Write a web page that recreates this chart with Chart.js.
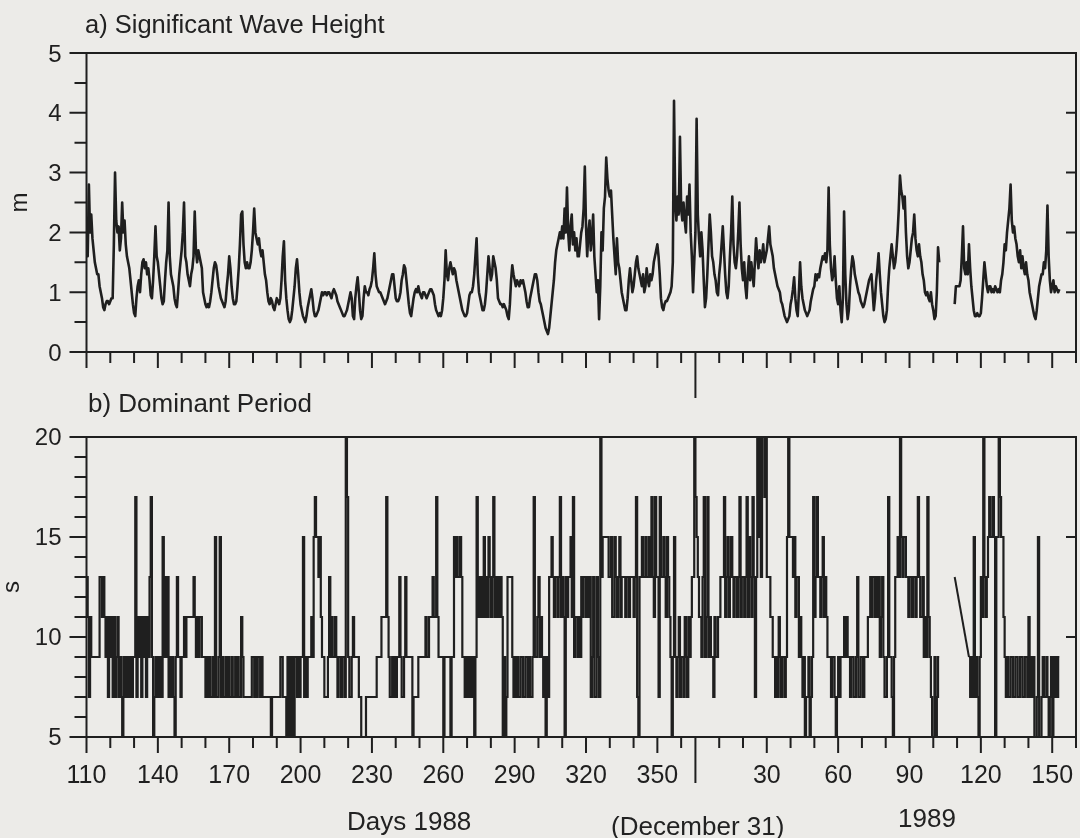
<!DOCTYPE html>
<html>
<head>
<meta charset="utf-8">
<script src="https://cdn.jsdelivr.net/npm/chart.js@4.4.1/dist/chart.umd.min.js"></script>
<style>
  html, body { margin: 0; padding: 0; background: #ecebe8; }
  #page { position: relative; width: 1080px; height: 838px; overflow: hidden;
          font-family: "Liberation Sans", Arial, sans-serif; color: #222; }
  #page canvas { position: absolute; left: 0; }
  .txt { position: absolute; white-space: nowrap; line-height: 1; font-size: 26px; }
</style>
</head>
<body>
<div id="page">
  <canvas id="hsChart" width="1080" height="420" style="top:0"></canvas>
  <canvas id="tpChart" width="1080" height="458" style="top:380px"></canvas>
  <div class="txt" style="left:85px;top:12px;font-size:25.5px">a) Significant Wave Height</div>
  <div class="txt" style="left:88px;top:390px">b) Dominant Period</div>
  <div class="txt" style="left:347px;top:808px">Days 1988</div>
  <div class="txt" style="left:611px;top:813px">(December 31)</div>
  <div class="txt" style="left:898px;top:805px">1989</div>
</div>
<script>
// time base: day number counted from 1 Jan 1988 (1989 days follow day 366)
const yearEnd = 366;
const startDay = 110;
const samplesPerDay = 2;

const tickDays1988 = [110, 120, 130, 140, 150, 160, 170, 180, 190, 200, 210, 220, 230,
  240, 250, 260, 270, 280, 290, 300, 310, 320, 330, 340, 350, 360];
const labelDays1988 = [110, 140, 170, 200, 230, 260, 290, 320, 350];
const tickDays1989 = [10, 20, 30, 40, 50, 60, 70, 80, 90, 100, 110, 120, 130, 140, 150, 160];
const labelDays1989 = [30, 60, 90, 120, 150];

// a) significant wave height (m), two samples per day from day 110
const waveHeight = [
  1.9,1.6,2.8,2.0,2.3,1.9,1.7,1.5,1.4,1.3,1.3,1.1,1.0,0.9,0.75,0.7,0.8,0.85,0.85,0.8,
  0.85,0.9,0.9,1.8,3.0,2.2,2.0,2.1,1.7,1.9,2.5,2.0,2.2,1.8,1.6,1.5,1.4,1.2,1.0,0.8,
  0.65,0.6,0.9,1.1,1.2,1.0,1.3,1.5,1.55,1.4,1.5,1.3,1.4,1.2,0.95,0.9,1.2,1.6,2.1,1.6,
  1.5,1.3,1.1,0.9,0.8,0.85,1.2,1.5,1.7,2.5,1.6,1.3,1.2,1.1,0.9,0.8,0.75,1.0,1.3,1.5,
  1.7,2.0,2.5,1.6,1.5,1.3,1.2,1.1,1.3,1.4,1.6,2.35,1.7,1.5,1.7,1.6,1.5,1.4,1.0,0.9,
  0.8,0.75,0.8,0.75,0.85,1.0,1.2,1.4,1.5,1.45,1.3,1.1,1.0,0.9,0.85,0.8,0.75,0.85,1.1,1.3,
  1.6,1.4,1.1,0.9,0.8,0.8,0.85,1.1,1.4,1.8,2.3,2.35,1.8,1.5,1.4,1.5,1.4,1.4,1.5,1.7,
  2.0,2.4,2.0,1.9,1.8,1.9,1.7,1.6,1.7,1.5,1.3,1.2,1.0,0.85,0.8,0.9,0.85,0.75,0.7,0.8,
  0.9,0.85,0.8,0.9,1.2,1.6,1.85,1.2,0.9,0.7,0.55,0.5,0.55,0.7,0.9,1.1,1.4,1.55,1.3,1.0,
  0.8,0.7,0.6,0.55,0.5,0.6,0.75,0.85,0.95,1.05,0.9,0.7,0.6,0.6,0.65,0.7,0.8,0.9,1.0,0.95,
  1.0,1.0,0.95,1.0,1.0,0.95,0.9,1.0,1.05,1.0,0.95,0.85,0.8,0.75,0.7,0.65,0.6,0.6,0.65,0.7,
  0.8,0.9,1.0,0.9,0.6,0.55,0.9,1.1,1.25,1.0,0.7,0.55,0.6,0.9,1.1,1.0,1.0,0.95,1.05,1.1,
  1.2,1.4,1.65,1.3,1.1,1.05,1.0,1.0,0.95,0.9,0.85,0.8,0.85,0.9,1.0,1.1,1.2,1.3,1.3,1.1,
  0.9,0.85,0.85,0.9,1.0,1.2,1.3,1.45,1.4,1.2,1.0,0.8,0.65,0.6,0.75,0.9,1.0,1.05,1.0,1.1,
  1.0,0.95,0.9,1.0,1.0,0.95,0.9,0.95,1.0,1.05,1.05,1.0,0.95,0.8,0.7,0.65,0.6,0.65,0.6,0.7,
  0.9,1.2,1.7,1.3,1.2,1.4,1.5,1.4,1.3,1.4,1.35,1.2,1.1,1.0,0.9,0.8,0.7,0.65,0.6,0.6,
  0.65,0.8,0.95,1.0,1.0,1.1,1.3,1.6,1.9,1.3,1.0,0.9,0.8,0.7,0.7,0.8,1.0,1.3,1.6,1.4,
  1.2,1.3,1.6,1.5,1.4,1.2,0.9,0.85,0.8,0.8,0.75,0.8,0.75,0.7,0.6,0.55,0.8,1.2,1.45,1.3,
  1.2,1.1,1.2,1.15,1.1,1.2,1.15,1.2,1.1,1.0,0.85,0.75,0.75,0.9,1.0,1.1,1.2,1.3,1.3,1.2,
  1.0,0.85,0.8,0.7,0.6,0.5,0.4,0.35,0.3,0.4,0.6,0.8,1.0,1.2,1.5,1.7,1.8,1.9,2.0,1.9,
  2.1,1.9,2.4,2.0,2.75,2.0,1.7,2.1,2.3,1.8,2.0,1.7,1.9,1.6,1.6,1.8,2.0,2.1,2.4,3.1,
  2.1,1.6,2.0,2.2,1.7,1.9,2.3,1.6,1.3,1.0,1.2,0.55,1.1,2.0,1.7,2.4,2.6,3.25,2.9,2.7,
  2.6,2.7,2.3,1.9,1.6,1.3,1.9,1.5,1.4,1.2,1.0,0.9,0.8,0.7,0.7,0.9,1.2,1.4,1.2,1.0,
  1.1,1.3,1.5,1.6,1.4,1.3,1.2,1.1,1.3,1.0,1.1,1.4,1.2,1.1,1.3,1.2,1.3,1.5,1.6,1.7,
  1.8,1.6,1.3,0.9,0.75,0.7,0.8,0.85,0.85,0.9,0.95,1.0,1.1,1.5,4.2,2.5,2.2,2.6,2.3,3.6,
  2.4,2.2,2.5,2.2,2.0,2.6,2.3,2.8,2.0,1.6,1.0,1.5,2.0,3.9,2.3,1.9,1.6,2.0,1.7,1.2,
  0.75,0.9,1.3,1.8,2.3,2.0,1.6,1.5,1.3,1.2,1.0,0.95,1.3,1.5,1.8,2.1,1.7,1.3,1.0,0.9,
  1.1,1.6,2.0,2.6,1.8,1.5,1.4,1.6,2.0,2.5,1.8,1.4,1.2,1.5,1.1,0.9,1.3,1.6,1.2,1.5,
  1.3,1.1,1.5,1.9,1.6,1.4,1.7,1.5,1.6,1.8,1.5,1.6,1.7,1.9,2.1,1.8,1.7,1.6,1.4,1.3,
  1.2,1.1,1.05,1.0,0.85,0.8,0.7,0.6,0.55,0.5,0.55,0.6,0.8,0.9,1.05,1.25,0.9,0.7,0.6,1.0,
  1.5,1.1,0.9,0.8,0.7,0.65,0.6,0.65,0.7,0.85,0.95,1.05,1.1,1.3,1.2,1.3,1.25,1.4,1.5,1.6,
  1.55,1.65,1.5,1.7,2.75,1.8,1.4,1.2,1.3,1.6,1.2,0.9,0.8,1.1,0.7,0.5,0.9,2.35,1.3,0.8,
  0.55,0.7,1.1,1.4,1.6,1.5,1.3,1.2,1.1,1.0,0.95,0.85,0.8,0.75,0.8,0.9,1.0,1.1,1.2,1.25,
  1.3,1.0,0.7,0.9,1.2,1.4,1.65,1.3,1.0,0.8,0.6,0.5,0.55,0.7,1.1,1.4,1.6,1.8,1.6,1.4,
  1.5,1.7,2.0,2.4,2.95,2.7,2.6,2.4,2.6,2.0,1.6,1.4,1.5,1.7,1.9,2.0,2.3,1.9,1.7,1.6,
  1.8,1.6,1.5,1.3,1.2,1.0,0.95,1.0,0.9,0.85,1.0,0.8,0.7,0.55,0.6,1.0,1.75,1.5,null,null,
  null,null,null,null,null,null,null,null,null,null,0.8,1.1,1.1,1.1,1.1,1.2,1.6,2.1,1.4,1.3,
  1.5,1.3,1.8,1.4,1.1,0.9,0.7,0.6,0.6,0.65,0.6,0.6,0.65,0.9,1.2,1.5,1.3,1.1,1.0,1.1,
  1.1,1.0,1.05,1.0,1.1,1.05,1.0,1.05,1.0,1.2,1.3,1.5,1.8,1.7,2.0,2.2,2.4,2.8,2.2,2.0,
  2.1,1.9,1.8,1.6,1.5,1.7,1.4,1.6,1.4,1.3,1.5,1.3,1.2,1.0,0.9,0.8,0.7,0.6,0.55,0.7,
  0.9,1.1,1.2,1.3,1.3,1.5,1.4,1.7,2.45,1.6,1.2,1.0,1.1,1.2,1.0,1.1,1.05,1.0,1.05
];

// b) dominant period (s), two samples per day from day 110
const dominantPeriod = [
  13,11,7,11,9,9,9,9,9,9,9,13,13,11,13,11,9,11,7,11,
  9,11,7,11,7,9,11,7,9,7,5,9,7,9,7,9,7,9,7,9,
  9,17,7,11,9,11,7,11,9,11,7,11,9,13,17,9,5,7,9,7,
  9,7,9,7,15,9,13,9,13,7,9,7,9,7,5,9,13,9,9,7,
  9,9,11,9,11,11,11,11,11,11,13,11,9,11,9,11,11,9,9,9,
  7,9,7,9,7,7,9,7,15,7,7,9,15,7,9,7,7,9,7,9,
  7,7,9,7,7,9,7,9,7,7,11,9,7,7,7,7,7,7,7,9,
  9,7,9,7,9,9,7,9,7,7,7,7,7,7,7,5,7,7,7,7,
  7,7,7,9,9,7,7,7,5,9,5,9,5,9,5,9,9,7,9,7,
  9,9,15,7,9,7,9,9,9,11,9,15,17,15,15,13,15,11,9,9,
  7,7,7,9,13,9,11,9,9,11,9,7,9,9,7,9,9,7,20,17,
  9,7,7,9,11,9,9,9,9,7,7,5,5,5,5,7,7,7,7,7,
  7,7,7,7,9,9,9,9,11,11,11,11,17,11,9,7,7,9,7,9,
  7,9,9,13,9,7,7,9,13,9,9,9,9,9,5,7,7,7,7,9,
  9,9,9,9,9,11,9,9,11,11,11,13,11,11,17,11,9,9,9,9,
  5,9,9,9,9,9,5,9,9,15,13,15,13,13,15,13,9,9,7,9,
  7,9,7,9,7,9,5,9,17,11,13,11,13,11,15,11,13,11,15,13,
  11,13,17,11,13,11,13,11,13,11,5,9,5,7,13,13,13,13,9,7,
  9,7,9,7,7,9,9,7,7,9,9,7,9,7,7,9,17,9,9,11,
  13,9,11,9,7,9,5,9,7,13,13,15,13,11,13,13,11,13,17,11,
  13,11,5,13,11,13,13,15,11,17,9,11,11,9,11,9,13,11,13,13,
  11,13,11,13,7,9,13,7,7,13,9,7,20,13,15,15,15,15,15,13,
  13,15,11,11,15,13,11,13,15,11,13,13,13,11,13,13,11,13,13,13,
  11,13,17,7,5,13,13,15,13,13,15,13,13,15,13,17,13,11,17,13,
  13,7,17,13,13,15,13,11,15,13,11,9,5,9,15,9,7,9,11,7,
  9,9,7,11,9,7,11,9,11,13,13,20,17,15,13,11,11,9,13,17,
  9,11,17,9,11,9,9,7,11,9,9,11,11,13,13,13,17,11,13,15,
  11,13,15,13,11,13,13,11,13,17,11,13,13,11,13,17,11,15,13,11,
  17,13,7,13,20,15,20,13,20,20,17,20,13,13,13,11,11,9,9,7,
  9,7,11,9,7,9,9,7,9,15,20,15,15,15,13,15,11,13,13,9,
  11,9,7,9,5,7,7,9,5,7,9,17,11,13,17,13,13,11,13,15,
  11,13,11,9,9,9,7,9,9,7,5,7,9,7,9,9,9,11,9,11,
  9,9,7,9,9,7,7,9,13,7,7,9,9,7,9,9,9,11,11,13,
  11,13,13,11,13,11,13,9,11,13,9,7,7,9,17,9,9,7,5,9,
  13,13,15,13,20,15,13,15,15,13,13,11,13,13,11,13,13,11,13,17,
  13,11,11,13,9,11,9,17,11,9,7,5,5,9,5,7,9,9,null,null,
  null,null,null,null,null,null,null,null,null,null,null,null,null,null,null,null,null,null,null,null,
  null,null,9,7,9,7,15,7,9,7,5,9,13,11,20,13,11,13,15,17,
  15,15,17,15,5,15,15,20,17,15,15,11,9,7,9,7,7,9,9,7,
  7,9,9,7,7,9,9,7,7,9,9,7,11,7,9,7,9,5,5,7,
  15,5,5,7,9,7,7,9,7,5,7,9,5,9,7,9,7,9,9
];

// period record bridged by a straight line across the short outage in 1989
const periodBridgeDays = [475, 481];
const periodBridge = [13, 9];

const ink = '#1f1f1f';
const fontFamily = '"Liberation Sans", Arial, Helvetica, sans-serif';

const majorDays = labelDays1988.concat(labelDays1989.map(d => d + yearEnd));
const minorDays = tickDays1988.concat(tickDays1989.map(d => d + yearEnd))
  .filter(d => !majorDays.includes(d));

function toPoints(values) {
  return values.map((v, i) => ({ x: startDay + i / samplesPerDay, y: v }));
}

// box, outside ticks and the long year-end tick, placed through the chart scales
function frame(cfg) {
  return {
    id: 'frame',
    afterDraw(chart) {
      const { ctx, chartArea: a } = chart;
      const x = chart.scales.x, y = chart.scales.y;
      ctx.save();
      ctx.strokeStyle = ink;
      ctx.lineWidth = 2;
      ctx.strokeRect(a.left, a.top, a.right - a.left, a.bottom - a.top);
      ctx.beginPath();
      const down = (d, len) => {
        const px = x.getPixelForValue(d);
        ctx.moveTo(px, a.bottom); ctx.lineTo(px, a.bottom + len);
      };
      const left = (v, len) => {
        const py = y.getPixelForValue(v);
        ctx.moveTo(a.left, py); ctx.lineTo(a.left - len, py);
      };
      const right = (v, len) => {
        const py = y.getPixelForValue(v);
        ctx.moveTo(a.right, py); ctx.lineTo(a.right - len, py);
      };
      majorDays.forEach(d => down(d, 16));
      minorDays.forEach(d => down(d, 11));
      down(yearEnd, 46);
      cfg.yMajor.forEach(v => left(v, 17));
      cfg.yMinor.forEach(v => left(v, 12));
      cfg.yRight.forEach(v => right(v, 10));
      ctx.stroke();
      ctx.restore();
    }
  };
}

const xBase = {
  type: 'linear', min: 110, max: 526,
  grid: { display: false, drawTicks: false },
  border: { display: false }
};

function fixX(height) {
  return s => { s.height = height; s.paddingLeft = 0; s.paddingRight = 0; };
}

new Chart(document.getElementById('hsChart'), {
  type: 'line',
  data: {
    datasets: [{
      data: toPoints(waveHeight),
      borderColor: ink, borderWidth: 2.6, borderJoinStyle: 'round',
      pointRadius: 0, tension: 0, spanGaps: false
    }]
  },
  options: {
    responsive: false, animation: false, events: [],
    layout: { padding: { left: 0, right: 4, top: 53, bottom: 0 } },
    plugins: { legend: { display: false }, tooltip: { enabled: false } },
    scales: {
      x: Object.assign({}, xBase, {
        ticks: { display: false },
        afterFit: fixX(68)
      }),
      y: {
        min: 0, max: 5,
        grid: { display: false, drawTicks: false },
        border: { display: false },
        ticks: { stepSize: 1, padding: 25, labelOffset: 2, color: ink,
                 font: { family: fontFamily, size: 24 } },
        title: { display: true, text: 'm', color: ink, padding: { top: 6, bottom: 0 },
                 font: { family: fontFamily, size: 24 } },
        afterFit: s => { s.width = 86.5; }
      }
    }
  },
  plugins: [frame({
    yMajor: [0, 1, 2, 3, 4, 5],
    yMinor: [0.5, 1.5, 2.5, 3.5, 4.5],
    yRight: [1, 2, 3, 4]
  })]
});

new Chart(document.getElementById('tpChart'), {
  type: 'line',
  data: {
    datasets: [{
      data: toPoints(dominantPeriod),
      borderColor: ink, borderWidth: 2.2, stepped: true,
      pointRadius: 0, spanGaps: false
    }, {
      data: periodBridgeDays.map((d, i) => ({ x: d, y: periodBridge[i] })),
      borderColor: ink, borderWidth: 2,
      pointRadius: 0, tension: 0
    }]
  },
  options: {
    responsive: false, animation: false, events: [],
    layout: { padding: { left: 0, right: 4, top: 57, bottom: 0 } },
    plugins: { legend: { display: false }, tooltip: { enabled: false } },
    scales: {
      x: Object.assign({}, xBase, {
        afterBuildTicks: s => { s.ticks = majorDays.map(v => ({ value: v })); },
        ticks: {
          autoSkip: false, maxRotation: 0, padding: 24, color: ink,
          font: { family: fontFamily, size: 25 },
          callback: v => (v > yearEnd ? v - yearEnd : v)
        },
        afterFit: fixX(101)
      }),
      y: {
        min: 5, max: 20,
        grid: { display: false, drawTicks: false },
        border: { display: false },
        ticks: { stepSize: 5, padding: 25, labelOffset: 1, color: ink,
                 font: { family: fontFamily, size: 24 } },
        title: { display: true, text: 's', color: ink, padding: { top: 0, bottom: 0 },
                 font: { family: fontFamily, size: 24, lineHeight: 1 } },
        afterFit: s => { s.width = 86.5; }
      }
    }
  },
  plugins: [frame({
    yMajor: [5, 10, 15, 20],
    yMinor: [6, 7, 8, 9, 11, 12, 13, 14, 16, 17, 18, 19],
    yRight: [10, 15]
  })]
});
</script>
</body>
</html>
